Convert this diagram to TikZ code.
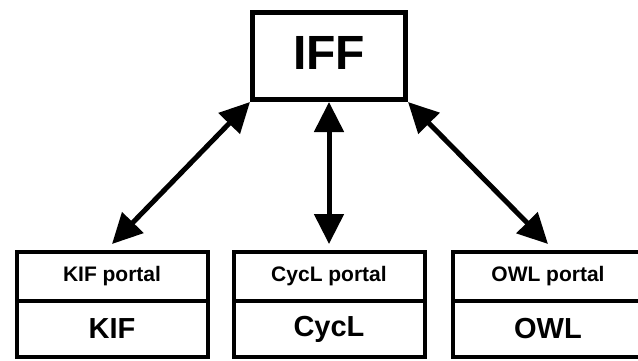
\documentclass[tikz,border=0pt]{standalone}
\usepackage{fontspec}
\setmainfont{Liberation Sans}
\usetikzlibrary{arrows.meta, positioning}

\tikzset{
  hub/.style={draw, line width=5pt, minimum width=153pt, minimum height=87pt,
    text depth=6pt, font=\bfseries\fontsize{48}{48}\selectfont},
  portal/.style={draw, line width=4pt, outer sep=0pt, minimum width=191pt,
    minimum height=49pt, font=\bfseries\fontsize{21}{21}\selectfont},
  langbox/.style={draw, line width=4pt, outer sep=0pt, minimum width=191pt,
    minimum height=56pt, font=\bfseries\fontsize{29}{29}\selectfont},
  link/.style={line width=5pt,
    {Triangle[length=30pt,width=29pt]}-{Triangle[length=30pt,width=29pt]}}
}

\begin{document}
\begin{tikzpicture}[x=1pt, y=-1pt]
            \useasboundingbox (0,0) rectangle (638,360);

            \node[hub] (iff) at (329,56) {IFF};

            \node[portal] (kifp) at (112,276.5) {KIF portal};
            \node[langbox, below=0pt of kifp] (kif) {KIF};
            \node[portal, right=26pt of kifp] (cyclp) {CycL portal};
            \node[langbox, below=0pt of cyclp] (cycl) {CycL};
            \node[portal, right=28pt of cyclp] (owlp) {OWL portal};
            \node[langbox, below=0pt of owlp] (owl) {OWL};

            \coordinate (kift) at ([yshift=8pt]kifp.north);
            \coordinate (cyclt) at ([yshift=8pt]cyclp.north);
            \coordinate (owlt) at ([yshift=8pt]owlp.north);

            \draw (iff.south west) edge[link] (kift)
            (iff.south) edge[link] (cyclt)
            (iff.south east) edge[link] (owlt);
        \end{tikzpicture}
\end{document}
